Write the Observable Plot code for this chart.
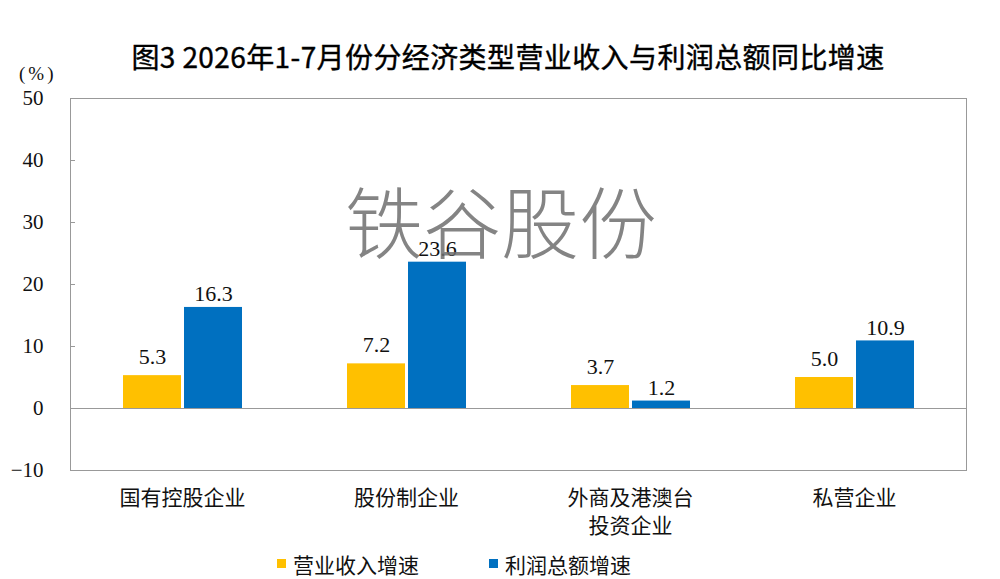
<!DOCTYPE html>
<html>
<head>
<meta charset="utf-8">
<script src="https://cdn.jsdelivr.net/npm/d3@7"></script>
<script src="https://cdn.jsdelivr.net/npm/@observablehq/plot@0.6"></script>
<style>
  html, body { margin: 0; padding: 0; background: #fff; }
  #wrap { position: relative; width: 1000px; height: 579px; overflow: hidden; }
  #title { box-sizing: border-box; height: 74px; padding-top: 38px; line-height: 36px; text-align: center;
           font-family: "Noto Sans CJK SC", sans-serif; font-weight: 400; font-size: 28px; color: #000; padding-left: 16px; letter-spacing: 0.4px;
           -webkit-text-stroke: 0.4px #000; }
  #unit { position: absolute; left: 19px; top: 63px; font-family: "Liberation Serif", serif; font-size: 19px; letter-spacing: 3px; color: #111; }
  #legend { box-sizing: border-box; height: 27px; padding-left: 277px; display: flex; align-items: center;
            font-family: "Noto Sans CJK SC", sans-serif; font-size: 21px; color: #111; }
  #legend .sw { width: 9px; height: 9px; display: inline-block; margin-right: 7px; }
  #legend .item { display: flex; align-items: center; margin-right: 70px; }
  #watermark { position: absolute; left: 345px; top: 180px; font-family: "Noto Sans CJK SC", sans-serif; font-weight: 300;
               font-size: 78px; line-height: 1; color: rgba(110,110,110,0.85); pointer-events: none; white-space: nowrap; }
  svg { display: block; }
</style>
</head>
<body>
<div id="wrap">
  <div id="title">图3 2026年1-7月份分经济类型营业收入与利润总额同比增速</div>
  <div id="unit">(%)</div>
  <div id="chart"></div>
  <div id="legend"></div>
  <div id="watermark">铁谷股份</div>
</div>
<script>
const categories = ["国有控股企业", "股份制企业", "外商及港澳台\n投资企业", "私营企业"];
const seriesNames = ["营业收入增速", "利润总额增速"];
const revenueGrowth = [5.3, 7.2, 3.7, 5.0];
const profitGrowth = [16.3, 23.6, 1.2, 10.9];
const yTicks = [-10, 0, 10, 20, 30, 40, 50];
const seriesColors = ["#FFC000", "#0070C0"];

const table = [];
categories.forEach((c, i) => {
  table.push({category: c, series: seriesNames[0], value: revenueGrowth[i]});
  table.push({category: c, series: seriesNames[1], value: profitGrowth[i]});
});

const numFont = "Liberation Serif, Times New Roman, serif";
const cjkFont = "Noto Sans CJK SC, sans-serif";
const frameColor = "#999";

const labelOpts = {fx: "category", x: "series", y: "value", text: d => d.value.toFixed(1),
  lineAnchor: "bottom", fontFamily: numFont, fontSize: 22, fill: "#111", style: "letter-spacing:2px"};

const chart = Plot.plot({
  width: 1000,
  height: 476,
  marginLeft: 68,
  marginRight: 33,
  marginTop: 24,
  marginBottom: 80,
  style: {background: "transparent", color: "#111"},
  fx: {domain: categories, padding: 0, label: null},
  x: {domain: seriesNames, paddingInner: 0.05, paddingOuter: 0.835, axis: null},
  y: {domain: [-10, 50], label: null},
  color: {domain: seriesNames, range: seriesColors},
  marks: [
    Plot.ruleY([50, -10, 0], {stroke: frameColor, strokeWidth: 1}),
    Plot.frame({anchor: "left", facetAnchor: "left", stroke: frameColor}),
    Plot.frame({anchor: "right", facetAnchor: "right", stroke: frameColor}),
    Plot.barY(table, {fx: "category", x: "series", y: "value", fill: "series"}),
    Plot.text(table.filter(d => d.series === seriesNames[0]), {...labelOpts, dy: -12}),
    Plot.text(table.filter(d => d.series === seriesNames[1]), {...labelOpts, dy: -6}),
    Plot.axisY({anchor: "left", ticks: yTicks, tickSize: -5, tickPadding: 32,
      stroke: frameColor, fontFamily: numFont, fontSize: 21, label: null, textStroke: "none"}),
    Plot.axisFx({anchor: "bottom", tickSize: 0, tickPadding: 15, fontFamily: cjkFont, fontSize: 21,
      lineHeight: 1.33, label: null})
  ]
});
document.getElementById("chart").appendChild(chart);

const legend = document.getElementById("legend");
seriesNames.forEach((name, i) => {
  const item = document.createElement("div");
  item.className = "item";
  const sw = document.createElement("span");
  sw.className = "sw";
  sw.style.background = seriesColors[i];
  const label = document.createElement("span");
  label.textContent = name;
  item.appendChild(sw);
  item.appendChild(label);
  legend.appendChild(item);
});
</script>
</body>
</html>
